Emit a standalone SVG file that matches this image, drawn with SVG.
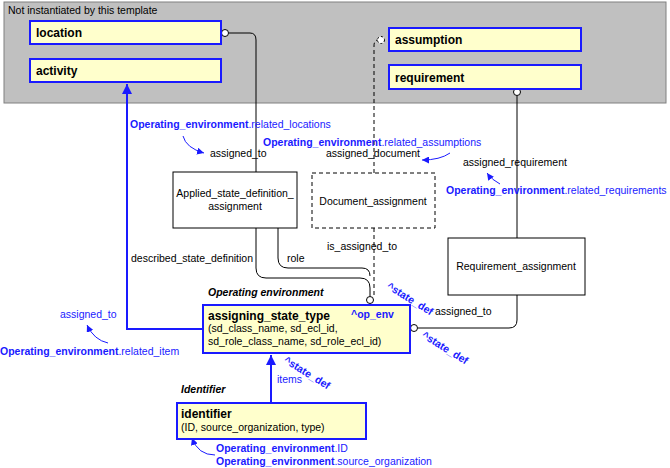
<svg xmlns="http://www.w3.org/2000/svg" width="670" height="468" viewBox="0 0 670 468">
<style>
text{font-family:"Liberation Sans",Arial,sans-serif;font-size:10.5px;fill:#000}
.b{fill:#1a1aff}
.bb{fill:#1a1aff;font-weight:bold}
.t{font-weight:bold;font-size:12px}
.i{font-weight:bold;font-style:italic}
.ent{fill:#ffffcc;stroke:#1a1aff;stroke-width:2}
.box{fill:#fff;stroke:#000;stroke-width:1}
.ln{fill:none;stroke:#000;stroke-width:1}
.dl{fill:none;stroke:#000;stroke-width:1;stroke-dasharray:4,3}
.bl{fill:none;stroke:#1a1aff;stroke-width:2}
.ba{fill:none;stroke:#1a1aff;stroke-width:1}
</style>
<defs>
<marker id="ah" viewBox="0 0 10 10" refX="10" refY="5" markerWidth="7" markerHeight="7" orient="auto" markerUnits="userSpaceOnUse"><path d="M0,0L10,5L0,10z" fill="#1a1aff"/></marker>
<marker id="ahs" viewBox="0 0 10 10" refX="10" refY="5" markerWidth="10" markerHeight="10" orient="auto" markerUnits="userSpaceOnUse"><path d="M0,0L10,5L0,10z" fill="#1a1aff"/></marker>
</defs>
<rect x="4" y="2" width="662" height="101" fill="#c0c0c0" stroke="#808080"/>
<text x="8" y="14">Not instantiated by this template</text>
<g id="connectors">
<path class="ln" d="M229,33H250Q256,33 256,40V172"/>
<circle cx="225" cy="33" r="3.5" fill="#fff" stroke="#000"/>
<path class="ln" d="M256,228V268Q256,278 266,278H360Q370,278 370,288V296"/>
<path class="ln" d="M278,228V258Q278,268 288,268H362Q370,268 370,276"/>
<circle cx="370" cy="300" r="3.5" fill="#fff" stroke="#000"/>
<path class="dl" d="M374,173V46Q374,40 378,40"/>
<circle cx="381" cy="40" r="3.5" fill="#fff" stroke="#000" stroke-dasharray="2,2"/>
<path class="dl" d="M374,228V298"/>
<path class="ln" d="M517,96V238"/>
<circle cx="517" cy="92" r="3.5" fill="#fff" stroke="#000"/>
<path class="ln" d="M517,295V320Q517,328 509,328H418"/>
<circle cx="414" cy="328" r="3.5" fill="#fff" stroke="#000"/>
<path class="bl" d="M203,329H127V84" marker-end="url(#ahs)"/>
<path class="bl" d="M271,403V355" marker-end="url(#ahs)"/>
<path class="ba" d="M183,136Q186,148 204,153" marker-end="url(#ah)"/>
<path class="ba" d="M450,153Q440,160 422,160" marker-end="url(#ah)"/>
<path class="ba" d="M500,184Q492,180 487,173" marker-end="url(#ah)"/>
<path class="ba" d="M108,343Q94,340 87,325" marker-end="url(#ah)"/>
<path class="ba" d="M215,455Q198,455 192,438" marker-end="url(#ah)"/>
</g>
<g id="location"><rect class="ent" x="30" y="21" width="191" height="23"/><text class="t" x="36" y="37">location</text></g>
<g id="activity"><rect class="ent" x="30" y="59" width="191" height="23"/><text class="t" x="36" y="75">activity</text></g>
<g id="assumption"><rect class="ent" x="389" y="28" width="192" height="23"/><text class="t" x="395" y="44">assumption</text></g>
<g id="requirement"><rect class="ent" x="389" y="65" width="192" height="24"/><text class="t" x="395" y="82">requirement</text></g>
<g id="applied"><rect class="box" x="173" y="172" width="124" height="56"/><text x="235" y="197" text-anchor="middle">Applied_state_definition_</text><text x="235" y="210" text-anchor="middle">assignment</text></g>
<g id="document"><rect class="box" x="312" y="173" width="123" height="55" stroke-dasharray="4,3"/><text x="373" y="205" text-anchor="middle">Document_assignment</text></g>
<g id="reqassign"><rect class="box" x="448" y="238" width="137" height="57"/><text x="516" y="270" text-anchor="middle">Requirement_assignment</text></g>
<g id="assigning_state_type"><rect class="ent" x="203" y="305" width="207" height="48"/>
<text class="t" x="208" y="320">assigning_state_type</text><text class="bb" x="351" y="318">^op_env</text>
<text x="208" y="332">(sd_class_name, sd_ecl_id,</text><text x="208" y="345">sd_role_class_name, sd_role_ecl_id)</text></g>
<g id="identifier"><rect class="ent" x="177" y="403" width="189" height="36"/><text class="t" x="181" y="418">identifier</text><text x="181" y="431">(ID, source_organization, type)</text></g>
<g id="labels">
<text x="130" y="128" class="b"><tspan font-weight="bold">Operating_environment</tspan>.related_locations</text>
<text x="210" y="157">assigned_to</text>
<text x="263" y="146" class="b"><tspan font-weight="bold">Operating_environment</tspan>.related_assumptions</text>
<text x="326" y="157">assigned_document</text>
<text x="463" y="166">assigned_requirement</text>
<text x="446" y="194" class="b"><tspan font-weight="bold">Operating_environment</tspan>.related_requirements</text>
<text x="131" y="262">described_state_definition</text>
<text x="287" y="262">role</text>
<text x="327" y="250">is_assigned_to</text>
<text class="i" x="208" y="296">Operating environment</text>
<text class="bb" x="386" y="288" transform="rotate(32 386 288)">^state_def</text>
<text x="435" y="315">assigned_to</text>
<text class="bb" x="421" y="337" transform="rotate(32 421 337)">^state_def</text>
<text class="b" x="60" y="318">assigned_to</text>
<text x="0" y="355" class="b"><tspan font-weight="bold">Operating_environment</tspan>.related_item</text>
<text class="bb" x="283" y="362" transform="rotate(32 283 362)">^state_def</text>
<text class="b" x="277" y="383">items</text>
<text class="i" x="181" y="393">Identifier</text>
<text x="216" y="452" class="b"><tspan font-weight="bold">Operating_environment</tspan>.ID</text>
<text x="216" y="465" class="b"><tspan font-weight="bold">Operating_environment</tspan>.source_organization</text>
</g>
</svg>
